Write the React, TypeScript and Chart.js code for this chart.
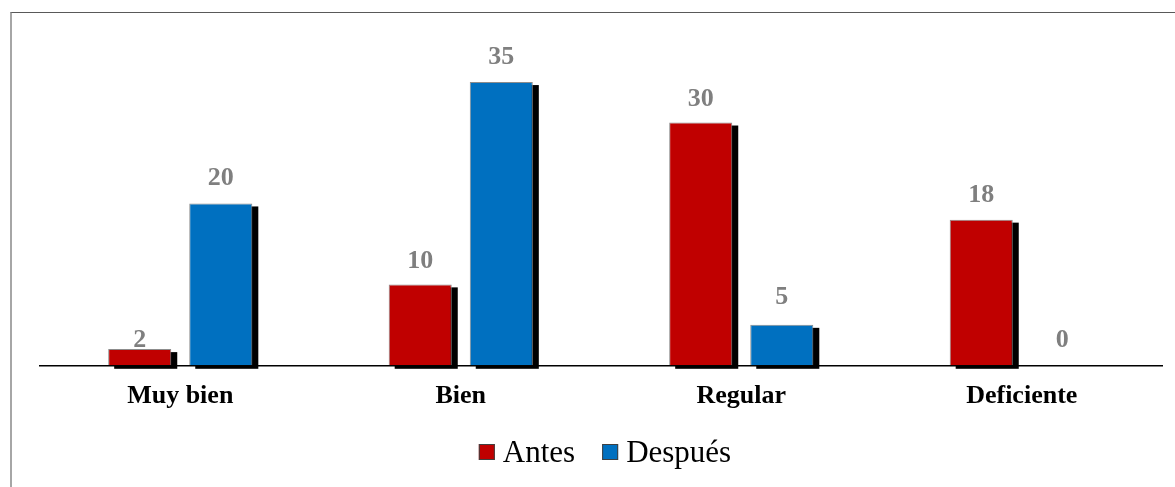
import React, { useEffect, useRef } from "react";
import { Chart, registerables } from "chart.js";

Chart.register(...registerables);

const categories = ["Muy bien", "Bien", "Regular", "Deficiente"];
const antes = [2, 10, 30, 18];
const despues = [20, 35, 5, 0];
const seriesNames = ["Antes", "Después"];
const seriesColors = ["#C00000", "#0070C0"];

const SERIF = '"Liberation Serif", "Times New Roman", serif';

// Distance (px) between the top of each bar and the baseline of its value label
const labelGaps = [
  [2, 16, 16.5, 17.5],
  [18, 18.5, 21, 18],
];

const shadowPlugin = {
  id: "barShadow",
  beforeDatasetsDraw(chart: any) {
    const ctx = chart.ctx;
    ctx.save();
    ctx.fillStyle = "#000000";
    chart.data.datasets.forEach((ds: any, i: number) => {
      const meta = chart.getDatasetMeta(i);
      meta.data.forEach((bar: any, j: number) => {
        if (!ds.data[j]) return;
        const p = bar.getProps(["x", "y", "base", "width"], true);
        const left = p.x - p.width / 2;
        const top = Math.min(p.y, p.base);
        const h = Math.abs(p.base - p.y);
        ctx.fillRect(left + 6, top + 3, p.width, h + 0.5);
      });
    });
    ctx.restore();
  },
};

const labelPlugin = {
  id: "valueLabels",
  afterDatasetsDraw(chart: any) {
    const ctx = chart.ctx;
    ctx.save();
    ctx.font = `bold 26px ${SERIF}`;
    ctx.fillStyle = "#7F7F7F";
    ctx.textAlign = "center";
    ctx.textBaseline = "alphabetic";
    chart.data.datasets.forEach((ds: any, i: number) => {
      const meta = chart.getDatasetMeta(i);
      meta.data.forEach((bar: any, j: number) => {
        const gap = (labelGaps[i] && labelGaps[i][j]) ?? 18;
        ctx.fillText(String(ds.data[j]), bar.x, bar.y - gap);
      });
    });
    ctx.restore();
  },
};

const legendPlugin = {
  id: "customLegend",
  afterDraw(chart: any) {
    const ctx = chart.ctx;
    ctx.save();
    ctx.font = `31px ${SERIF}`;
    const box = 16;
    const gapText = 8;
    const gapItem = 27;
    const items = chart.data.datasets.map((ds: any) => ({
      label: ds.label,
      color: ds.backgroundColor,
      w: ctx.measureText(ds.label).width,
    }));
    const total =
      items.reduce((s: number, it: any) => s + box + gapText + it.w, 0) +
      gapItem * (items.length - 1);
    let x = 605 - total / 2;
    const baseline = 462;
    items.forEach((it: any) => {
      ctx.fillStyle = it.color;
      ctx.fillRect(x, 444, box, box);
      ctx.strokeStyle = "#404040";
      ctx.lineWidth = 1;
      ctx.strokeRect(x + 0.5, 444.5, box - 1, box - 1);
      ctx.fillStyle = "#000000";
      ctx.textAlign = "left";
      ctx.textBaseline = "alphabetic";
      ctx.fillText(it.label, x + box + gapText, baseline);
      x += box + gapText + it.w + gapItem;
    });
    ctx.restore();
  },
};

export default function App() {
  const ref = useRef<HTMLCanvasElement | null>(null);

  useEffect(() => {
    if (!ref.current) return;
    const chart = new Chart(ref.current, {
      type: "bar",
      data: {
        labels: categories,
        datasets: [
          {
            label: seriesNames[0],
            data: antes,
            backgroundColor: seriesColors[0],
            borderColor: "#8C8C8C",
            borderWidth: (c: any) => (c.raw === 0 ? 0 : 1),
            categoryPercentage: 0.578,
            barPercentage: 0.778,
          },
          {
            label: seriesNames[1],
            data: despues,
            backgroundColor: seriesColors[1],
            borderColor: "#8C8C8C",
            borderWidth: (c: any) => (c.raw === 0 ? 0 : 1),
            categoryPercentage: 0.578,
            barPercentage: 0.778,
          },
        ],
      },
      options: {
        responsive: false,
        animation: false,
        layout: {
          padding: { left: 40, right: 13, top: 41.6, bottom: 60.5 },
        },
        plugins: {
          legend: { display: false },
          tooltip: { enabled: false },
        },
        scales: {
          x: {
            grid: { display: false, drawTicks: false },
            border: { display: true, color: "#000000", width: 1.5 },
            ticks: {
              color: "#000000",
              padding: 15,
              font: { family: SERIF, size: 26, weight: "bold" },
            },
          },
          y: {
            display: false,
            min: 0,
            max: 40,
          },
        },
      },
      plugins: [shadowPlugin, labelPlugin, legendPlugin],
    } as any);
    return () => chart.destroy();
  }, []);

  return (
    <div
      style={{
        position: "fixed",
        left: 0,
        top: 0,
        width: 1175,
        height: 487,
        background: "#ffffff",
        overflow: "hidden",
      }}
    >
      <div
        style={{
          position: "absolute",
          left: 10,
          top: 12,
          width: 1250,
          height: 600,
          borderTop: "1px solid #595959",
          borderLeft: "2px solid #A6A6A6",
        }}
      />
      <canvas
        ref={ref}
        width={1175}
        height={487}
        style={{ position: "absolute", left: 0, top: 0 }}
      />
    </div>
  );
}
